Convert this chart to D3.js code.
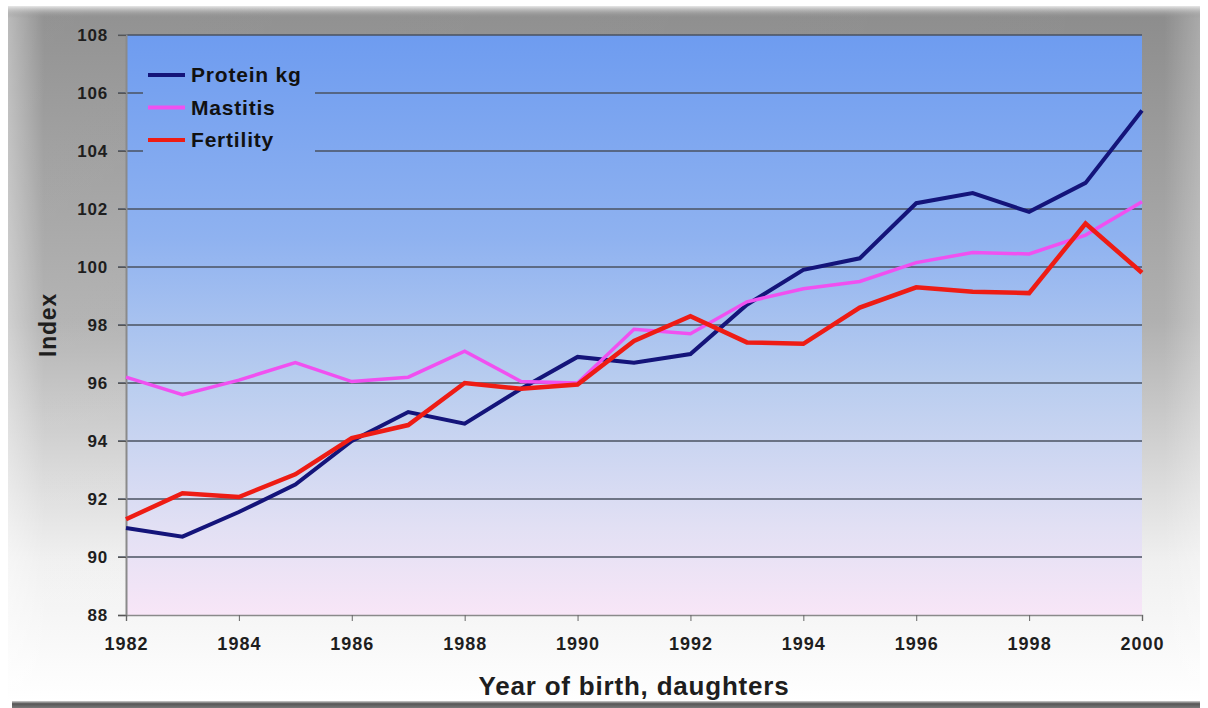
<!DOCTYPE html>
<html>
<head>
<meta charset="utf-8">
<script src="https://cdn.jsdelivr.net/npm/d3@7"></script>
<style>
  html, body { margin: 0; padding: 0; background: #ffffff; }
  svg { display: block; font-family: "Liberation Sans", Arial, sans-serif; }
</style>
</head>
<body>
<svg id="chart" width="1208" height="708"></svg>
<script>
const years = [1982,1983,1984,1985,1986,1987,1988,1989,1990,1991,1992,1993,1994,1995,1996,1997,1998,1999,2000];
const protein   = [91.0, 90.7, 91.55, 92.5, 94.0, 95.0, 94.6, 95.8, 96.9, 96.7, 97.0, 98.7, 99.9, 100.3, 102.2, 102.55, 101.9, 102.9, 105.4];
const mastitis  = [96.2, 95.6, 96.1, 96.7, 96.05, 96.2, 97.1, 96.05, 96.0, 97.85, 97.7, 98.8, 99.25, 99.5, 100.15, 100.5, 100.45, 101.1, 102.25];
const fertility = [91.3, 92.2, 92.07, 92.85, 94.1, 94.55, 96.0, 95.8, 95.95, 97.45, 98.3, 97.4, 97.35, 98.6, 99.3, 99.15, 99.1, 101.5, 99.8];
const yTicks = [88,90,92,94,96,98,100,102,104,106,108];
const xTicks = [1982,1984,1986,1988,1990,1992,1994,1996,1998,2000];
const seriesNames = ["Protein kg","Mastitis","Fertility"];
const seriesColors = ["#14147a","#f050f0","#ee1c14"];

const svg = d3.select("#chart");
const W = 1208, H = 708;
const m = {left:126, right:66, top:35, bottom:93};

const defs = svg.append("defs");
const fg = defs.append("linearGradient").attr("id","frameGrad").attr("x1",0).attr("y1",0).attr("x2",0).attr("y2",1);
fg.append("stop").attr("offset","0").attr("stop-color","#8c8c8c");
fg.append("stop").attr("offset","0.45").attr("stop-color","#b0b0b0");
fg.append("stop").attr("offset","0.8").attr("stop-color","#f0f0f0");
fg.append("stop").attr("offset","1").attr("stop-color","#ffffff");

const fh = defs.append("linearGradient").attr("id","frameH").attr("x1",0).attr("y1",0).attr("x2",1).attr("y2",0);
fh.append("stop").attr("offset","0").attr("stop-color","#ffffff").attr("stop-opacity",0.4);
fh.append("stop").attr("offset","0.03").attr("stop-color","#ffffff").attr("stop-opacity",0.05);
fh.append("stop").attr("offset","0.97").attr("stop-color","#ffffff").attr("stop-opacity",0.0);
fh.append("stop").attr("offset","1").attr("stop-color","#ffffff").attr("stop-opacity",0.25);

const tg = defs.append("linearGradient").attr("id","topBevel").attr("x1",0).attr("y1",0).attr("x2",0).attr("y2",1);
tg.append("stop").attr("offset","0").attr("stop-color","#e8e8e8");
tg.append("stop").attr("offset","1").attr("stop-color","#8e8e8e").attr("stop-opacity",0);

const bg = defs.append("linearGradient").attr("id","botLine").attr("x1",0).attr("y1",0).attr("x2",0).attr("y2",1);
bg.append("stop").attr("offset","0").attr("stop-color","#d0d0d0");
bg.append("stop").attr("offset","0.4").attr("stop-color","#555555");
bg.append("stop").attr("offset","1").attr("stop-color","#7a7a7a");

const pg = defs.append("linearGradient").attr("id","plotGrad")
  .attr("gradientUnits","userSpaceOnUse")
  .attr("x1",0).attr("y1",m.top).attr("x2",0).attr("y2",H-m.bottom);
pg.append("stop").attr("offset","0").attr("stop-color","#6e9cf0");
pg.append("stop").attr("offset","0.35").attr("stop-color","#8fb2f0");
pg.append("stop").attr("offset","0.6").attr("stop-color","#b9cdef");
pg.append("stop").attr("offset","0.85").attr("stop-color","#e2e0f4");
pg.append("stop").attr("offset","1").attr("stop-color","#f8e6f7");

// frame
svg.append("rect").attr("x",0).attr("y",0).attr("width",W).attr("height",H).attr("fill","#ffffff");
svg.append("rect").attr("x",8).attr("y",6).attr("width",1192).attr("height",696).attr("fill","url(#frameGrad)");
svg.append("rect").attr("x",8).attr("y",6).attr("width",1192).attr("height",696).attr("fill","url(#frameH)");
svg.append("rect").attr("x",8).attr("y",6).attr("width",1192).attr("height",12).attr("fill","url(#topBevel)");
svg.append("rect").attr("x",12).attr("y",701).attr("width",1188).attr("height",7).attr("fill","url(#botLine)");

const x = d3.scaleLinear().domain([1982,2000]).range([m.left, W-m.right]);
const y = d3.scaleLinear().domain([88,108]).range([H-m.bottom, m.top]);

// plot area
svg.append("rect").attr("x",x(1982)).attr("y",y(108)).attr("width",x(2000)-x(1982)).attr("height",y(88)-y(108))
  .attr("fill","url(#plotGrad)");

// gridlines
svg.append("g").selectAll("line").data(yTicks.filter(d=>d>88)).join("line")
  .attr("x1",x(1982)-8).attr("x2",x(2000)).attr("y1",d=>y(d)).attr("y2",d=>y(d))
  .attr("stroke","#4a5260").attr("stroke-opacity",0.75).attr("stroke-width",1.8);

// legend background (hides gridlines)
svg.append("rect").attr("x",143).attr("y",55).attr("width",172).attr("height",108).attr("fill","url(#plotGrad)");

const fontFam = "'Liberation Sans', Arial, sans-serif";
// axes
const yAxis = d3.axisLeft(y).tickValues(yTicks).tickSize(8).tickPadding(10);
const gy = svg.append("g").attr("transform",`translate(${x(1982)},0)`).call(yAxis);
gy.select(".domain").attr("stroke","#8a8a8a").attr("stroke-width",2);
gy.selectAll(".tick line").attr("stroke","#555").attr("stroke-width",1);
gy.selectAll(".tick text").attr("font-size",17).attr("font-weight","bold").attr("fill","#1e1e1e")
  .attr("letter-spacing","0.8px").attr("font-family",fontFam);

const xAxis = d3.axisBottom(x).tickValues(xTicks).tickFormat(d3.format("d")).tickSize(6).tickPadding(16);
const gx = svg.append("g").attr("transform",`translate(0,${y(88)})`).call(xAxis);
gx.select(".domain").attr("stroke","#8a8a8a").attr("stroke-width",1.5);
gx.selectAll(".tick line").attr("stroke","#666").attr("stroke-width",1);
gx.selectAll(".tick text").attr("font-size",18).attr("font-weight","bold").attr("fill","#1e1e1e")
  .attr("letter-spacing","1px").attr("font-family",fontFam);

// lines
const data = [protein, mastitis, fertility];
const widths = [4, 3.5, 4.5];
const line = d3.line().x((d,i)=>x(years[i])).y(d=>y(d));
data.forEach((s,k)=>{
  svg.append("path").datum(s).attr("d",line).attr("fill","none")
    .attr("stroke",seriesColors[k]).attr("stroke-width",widths[k]).attr("stroke-linejoin","miter");
});

// legend
const lg = svg.append("g");
seriesNames.forEach((n,k)=>{
  const yy = 75 + k*32.5;
  lg.append("line").attr("x1",148).attr("x2",185).attr("y1",yy).attr("y2",yy)
    .attr("stroke",seriesColors[k]).attr("stroke-width",4);
  lg.append("text").attr("x",191).attr("y",yy).attr("dy","0.35em").attr("font-size",21).attr("font-weight","bold")
    .attr("letter-spacing","0.8px").attr("fill","#111").text(n);
});

// titles
svg.append("text").attr("x",(x(1982)+x(2000))/2).attr("y",695).attr("text-anchor","middle")
  .attr("font-size",26).attr("font-weight","bold").attr("letter-spacing","0.8px").attr("fill","#1e1e1e").text("Year of birth, daughters");
svg.append("text").attr("transform",`translate(56,${(y(88)+y(108))/2}) rotate(-90)`).attr("text-anchor","middle")
  .attr("font-size",23).attr("font-weight","bold").attr("letter-spacing","0.8px").attr("fill","#1e1e1e").text("Index");
</script>
</body>
</html>
